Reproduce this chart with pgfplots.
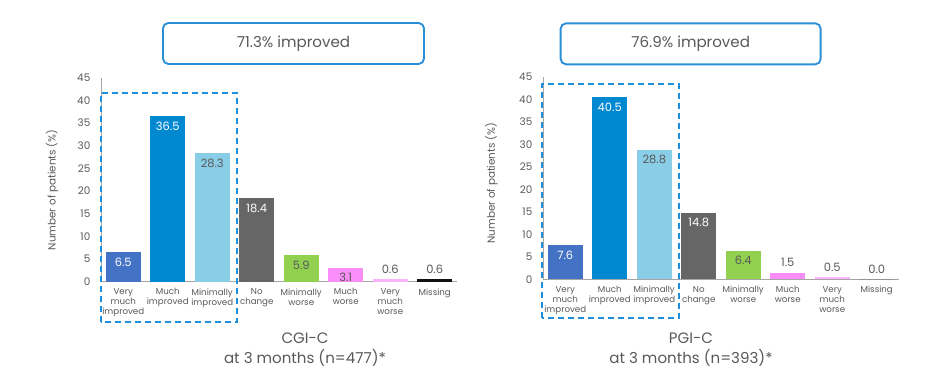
\documentclass[border=0pt]{standalone}
\usepackage{fontspec}
\setmainfont{Poppins}
\usepackage{pgfplots}
\pgfplotsset{compat=1.18}
\definecolor{txt}{HTML}{595959}
\definecolor{axg}{HTML}{A6A6A6}
\definecolor{boxblue}{HTML}{2A8FD6}
\definecolor{dashblue}{HTML}{1E8FDB}
\definecolor{cA}{HTML}{4472C4}
\definecolor{cB}{HTML}{0088D1}
\definecolor{cC}{HTML}{89CEE6}
\definecolor{cD}{HTML}{666666}
\definecolor{cE}{HTML}{92D050}
\definecolor{cF}{HTML}{F98EF9}
\definecolor{cG}{HTML}{FBB4FB}
\definecolor{cH}{HTML}{111111}
\pgfplotsset{
  mybars/.style={
    ybar, bar width=0.79, bar shift=0pt,
    scale only axis, width=267pt,
    xmin=-0.5, xmax=7.5, ymin=0, ymax=45,
    ytick={0,5,...,45}, xtick={0,...,7},
    xticklabels={{Very\\much\\improved},{Much\\improved},{Minimally\\improved},{No\\change},{Minimally\\worse},{Much\\worse},{Very\\much\\worse},{Missing}},
    axis x line=bottom, axis y line=left,
    axis line style={-, draw=axg, line width=0.7pt},
    major tick length=0pt,
    tick label style={text=txt},
    yticklabel style={font=\fontsize{7.8}{9}\selectfont, xshift=-4.5pt},
    xticklabel style={font=\fontsize{6.5}{7.5}\selectfont, align=center, yshift=-1.5pt},
    /pgf/number format/assume math mode=true,
    nodes near coords={\pgfmathprintnumber[fixed,fixed zerofill,precision=1,assume math mode=true]{\pgfplotspointmeta}},
    every node near coord/.append style={font=\fontsize{8.6}{10}\selectfont, anchor=center},
    clip=false,
  },
  inW/.style={every node near coord/.append style={text=white, yshift=-7.5pt}},
  inD/.style={every node near coord/.append style={text=txt, yshift=-7.5pt}},
  up/.style={every node near coord/.append style={text=txt, yshift=7.5pt}},
}
\begin{document}
\begin{tikzpicture}
\useasboundingbox (0,0) rectangle (705pt,286.5pt);
% Left chart: CGI-C
\begin{axis}[mybars, height=153pt, at={(75.75pt,75.2pt)}, anchor=south west]
\addplot[fill=cA, draw=none, inW] coordinates {(0,6.5)};
\addplot[fill=cB, draw=none, inW] coordinates {(1,36.5)};
\addplot[fill=cC, draw=none, inD] coordinates {(2,28.3)};
\addplot[fill=cD, draw=none, inW] coordinates {(3,18.4)};
\addplot[fill=cE, draw=none, inD] coordinates {(4,5.9)};
\addplot[fill=cF, draw=none, inD] coordinates {(5,3.1)};
\addplot[fill=cG, draw=none, up] coordinates {(6,0.6)};
\addplot[fill=cH, draw=none, up] coordinates {(7,0.6)};
\end{axis}
% Right chart: PGI-C
\begin{axis}[mybars, height=152pt, at={(407.25pt,77pt)}, anchor=south west]
\addplot[fill=cA, draw=none, inW] coordinates {(0,7.6)};
\addplot[fill=cB, draw=none, inW] coordinates {(1,40.5)};
\addplot[fill=cC, draw=none, inD] coordinates {(2,28.8)};
\addplot[fill=cD, draw=none, inW] coordinates {(3,14.8)};
\addplot[fill=cE, draw=none, inD] coordinates {(4,6.4)};
\addplot[fill=cF, draw=none, up] coordinates {(5,1.5)};
\addplot[fill=cG, draw=none, up] coordinates {(6,0.5)};
\addplot[fill=cH, draw=none, up] coordinates {(7,0.0)};
\end{axis}
% y labels
\node[rotate=90, text=txt, font=\fontsize{7.8}{9}\selectfont] at (39pt,144pt) {Number of patients (\%)};
\node[rotate=90, text=txt, font=\fontsize{7.8}{9}\selectfont] at (368.5pt,149pt) {Number of patients (\%)};
% dashed boxes
\draw[dashblue, line width=1.5pt, dash pattern=on 4.5pt off 3pt] (75.5pt,45.2pt) rectangle (177.5pt,217pt);
\draw[dashblue, line width=1.5pt, dash pattern=on 4.5pt off 3pt] (406.3pt,48pt) rectangle (509.25pt,223.5pt);
% title boxes
\draw[boxblue, line width=1.4pt, rounded corners=4pt] (122.25pt,238.5pt) rectangle (318pt,269.25pt);
\node[text=txt, font=\fontsize{11.3}{13}\selectfont] at (220.1pt,253.9pt) {71.3\% improved};
\draw[boxblue, line width=1.4pt, rounded corners=4pt] (420.5pt,238.25pt) rectangle (615.5pt,269pt);
\node[text=txt, font=\fontsize{11.3}{13}\selectfont] at (518pt,253.6pt) {76.9\% improved};
% bottom titles
\node[text=txt, font=\fontsize{11.3}{13}\selectfont] at (228.75pt,33pt) {CGI-C};
\node[text=txt, font=\fontsize{11.3}{13}\selectfont] at (228.75pt,18pt) {at 3 months (n=477)*};
\node[text=txt, font=\fontsize{11.3}{13}\selectfont] at (518.25pt,33pt) {PGI-C};
\node[text=txt, font=\fontsize{11.3}{13}\selectfont] at (518.25pt,18pt) {at 3 months (n=393)*};
\end{tikzpicture}
\end{document}
